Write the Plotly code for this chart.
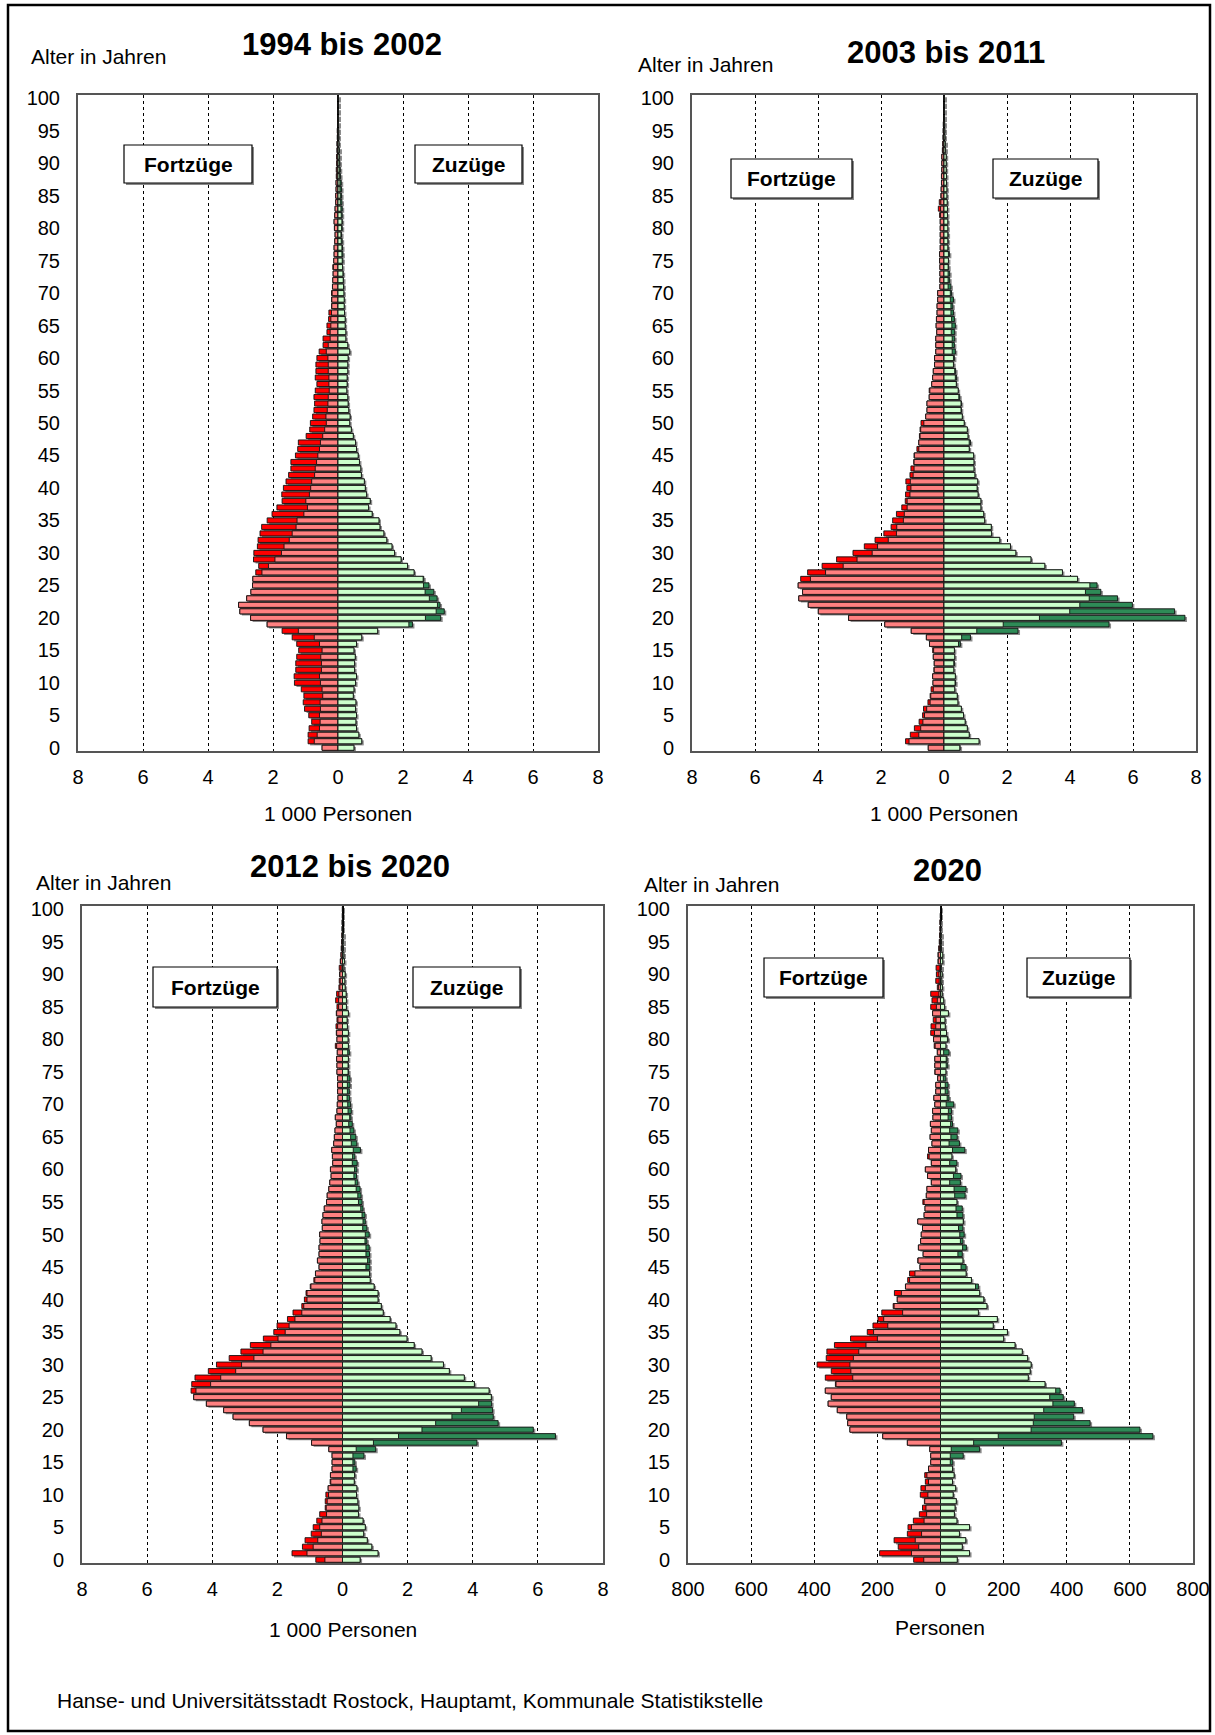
import plotly.graph_objects as go

W, H = 1215, 1735

ages = list(range(0, 101))

# Fortzüge / Zuzüge 1994 bis 2002 (1 000 Personen), Alter 0..100
fort_1994_2002 = [0.49, 0.92, 0.92, 0.89, 0.81, 0.90, 1.03, 1.07, 1.05, 1.13, 1.34, 1.35, 1.30, 1.30, 1.27, 1.21, 1.27, 1.41, 1.72, 2.18,
                  2.69, 3.02, 3.06, 2.81, 2.68, 2.63, 2.62, 2.53, 2.44, 2.60, 2.59, 2.48, 2.46, 2.40, 2.35, 2.18, 2.03, 1.88, 1.72, 1.73,
                  1.68, 1.60, 1.52, 1.45, 1.45, 1.31, 1.24, 1.22, 0.98, 0.87, 0.85, 0.78, 0.74, 0.72, 0.74, 0.70, 0.65, 0.70, 0.68, 0.68,
                  0.65, 0.58, 0.46, 0.46, 0.34, 0.34, 0.29, 0.28, 0.20, 0.20, 0.20, 0.17, 0.16, 0.15, 0.16, 0.13, 0.12, 0.12, 0.10, 0.09,
                  0.11, 0.12, 0.10, 0.09, 0.07, 0.07, 0.06, 0.06, 0.05, 0.05, 0.04, 0.04, 0.03, 0.03, 0.02, 0.02, 0.01, 0.01, 0.005, 0.003,
                  0.003]
zu_1994_2002 = [0.49, 0.73, 0.64, 0.57, 0.55, 0.57, 0.54, 0.55, 0.47, 0.49, 0.54, 0.57, 0.51, 0.51, 0.53, 0.49, 0.57, 0.73, 1.22, 2.29,
                3.16, 3.27, 3.14, 3.05, 2.95, 2.80, 2.64, 2.34, 2.14, 1.94, 1.74, 1.66, 1.50, 1.41, 1.29, 1.26, 1.05, 0.94, 0.99, 0.88,
                0.84, 0.81, 0.72, 0.70, 0.66, 0.62, 0.57, 0.54, 0.47, 0.41, 0.36, 0.37, 0.33, 0.31, 0.30, 0.27, 0.28, 0.28, 0.30, 0.30,
                0.31, 0.36, 0.30, 0.24, 0.24, 0.22, 0.22, 0.20, 0.19, 0.19, 0.18, 0.18, 0.17, 0.16, 0.14, 0.15, 0.15, 0.14, 0.13, 0.11,
                0.13, 0.13, 0.13, 0.13, 0.12, 0.11, 0.11, 0.10, 0.08, 0.07, 0.06, 0.05, 0.04, 0.03, 0.03, 0.02, 0.01, 0.01, 0.005, 0.003,
                0.003]

# 2003 bis 2011 (1 000 Personen)
fort_2003_2011 = [0.50, 1.22, 1.07, 0.94, 0.79, 0.68, 0.65, 0.51, 0.44, 0.41, 0.35, 0.36, 0.32, 0.31, 0.34, 0.36, 0.46, 0.56, 1.04, 1.88,
                  3.03, 3.99, 4.31, 4.61, 4.49, 4.63, 4.55, 4.33, 3.87, 3.41, 2.89, 2.53, 2.19, 1.91, 1.68, 1.63, 1.51, 1.34, 1.23, 1.22,
                  1.18, 1.21, 1.08, 1.05, 0.96, 0.95, 0.86, 0.80, 0.78, 0.76, 0.73, 0.58, 0.54, 0.54, 0.47, 0.47, 0.39, 0.36, 0.34, 0.30,
                  0.30, 0.26, 0.26, 0.26, 0.23, 0.25, 0.24, 0.22, 0.22, 0.20, 0.20, 0.13, 0.13, 0.13, 0.13, 0.14, 0.14, 0.12, 0.12, 0.12,
                  0.12, 0.12, 0.14, 0.18, 0.15, 0.10, 0.09, 0.08, 0.08, 0.07, 0.07, 0.07, 0.05, 0.04, 0.03, 0.025, 0.02, 0.015, 0.01, 0.005,
                  0.005]
zu_2003_2011 = [0.51, 1.11, 0.80, 0.74, 0.67, 0.62, 0.55, 0.44, 0.42, 0.34, 0.37, 0.36, 0.31, 0.33, 0.34, 0.33, 0.52, 0.84, 2.35, 5.24,
                7.65, 7.32, 5.98, 5.51, 4.98, 4.86, 4.24, 3.76, 3.20, 2.76, 2.28, 2.11, 1.77, 1.51, 1.50, 1.29, 1.26, 1.17, 1.17, 1.08,
                1.05, 1.07, 0.98, 0.95, 0.95, 0.94, 0.80, 0.84, 0.76, 0.74, 0.64, 0.58, 0.55, 0.55, 0.50, 0.45, 0.40, 0.40, 0.37, 0.31,
                0.33, 0.36, 0.33, 0.34, 0.34, 0.36, 0.33, 0.30, 0.28, 0.30, 0.24, 0.22, 0.18, 0.18, 0.15, 0.14, 0.17, 0.13, 0.13, 0.13,
                0.12, 0.12, 0.11, 0.11, 0.10, 0.09, 0.09, 0.08, 0.08, 0.07, 0.07, 0.07, 0.05, 0.04, 0.03, 0.025, 0.02, 0.015, 0.01, 0.005,
                0.005]

# 2012 bis 2020 (1 000 Personen)
fort_2012_2020 = [0.82, 1.55, 1.23, 1.15, 0.96, 0.90, 0.79, 0.70, 0.53, 0.53, 0.51, 0.44, 0.38, 0.37, 0.32, 0.32, 0.32, 0.42, 0.95, 1.72,
                  2.44, 2.86, 3.36, 3.65, 4.18, 4.57, 4.65, 4.63, 4.53, 4.12, 3.87, 3.48, 3.12, 2.83, 2.43, 2.11, 2.01, 1.69, 1.52, 1.25,
                  1.17, 1.12, 0.99, 0.88, 0.83, 0.72, 0.77, 0.72, 0.72, 0.69, 0.70, 0.62, 0.63, 0.60, 0.56, 0.49, 0.47, 0.42, 0.39, 0.35,
                  0.37, 0.30, 0.31, 0.33, 0.27, 0.25, 0.23, 0.19, 0.22, 0.17, 0.16, 0.14, 0.15, 0.15, 0.15, 0.17, 0.17, 0.18, 0.16, 0.22,
                  0.17, 0.19, 0.20, 0.17, 0.19, 0.17, 0.21, 0.18, 0.11, 0.10, 0.09, 0.10, 0.07, 0.05, 0.04, 0.03, 0.02, 0.015, 0.01, 0.005,
                  0.003]
zu_2012_2020 = [0.54, 1.09, 0.90, 0.76, 0.65, 0.70, 0.63, 0.49, 0.50, 0.47, 0.43, 0.44, 0.36, 0.38, 0.42, 0.38, 0.66, 1.02, 4.13, 6.54,
                5.86, 4.78, 4.63, 4.61, 4.58, 4.58, 4.50, 4.05, 3.74, 3.28, 3.10, 2.72, 2.44, 2.20, 1.98, 1.76, 1.64, 1.46, 1.25, 1.19,
                1.09, 1.09, 0.97, 0.85, 0.84, 0.84, 0.84, 0.83, 0.82, 0.75, 0.82, 0.75, 0.70, 0.69, 0.63, 0.60, 0.57, 0.54, 0.47, 0.43,
                0.44, 0.45, 0.38, 0.55, 0.44, 0.41, 0.35, 0.30, 0.26, 0.27, 0.25, 0.22, 0.21, 0.23, 0.23, 0.19, 0.18, 0.18, 0.21, 0.18,
                0.17, 0.18, 0.15, 0.14, 0.18, 0.12, 0.12, 0.11, 0.08, 0.07, 0.08, 0.04, 0.06, 0.04, 0.03, 0.02, 0.02, 0.01, 0.01, 0.005,
                0.003]

# 2020 (Personen)
fort_2020 = [85, 193, 134, 147, 105, 103, 86, 67, 57, 51, 64, 62, 48, 50, 38, 31, 31, 34, 105, 183,
             287, 294, 297, 327, 356, 346, 365, 333, 365, 346, 391, 362, 360, 336, 285, 232, 214, 198, 186, 150,
             137, 146, 111, 104, 98, 65, 72, 55, 70, 63, 61, 57, 72, 52, 49, 56, 45, 43, 29, 41,
             48, 29, 41, 38, 27, 33, 29, 32, 24, 25, 18, 21, 15, 15, 9, 18, 18, 18, 10, 20,
             22, 31, 30, 23, 25, 31, 27, 31, 10, 15, 13, 14, 8, 8, 6, 4, 3, 2, 2, 1,
             0]
zu_2020 = [53, 92, 69, 80, 60, 92, 52, 44, 46, 50, 40, 48, 38, 43, 39, 39, 72, 124, 383, 673,
           632, 474, 422, 450, 424, 389, 379, 331, 278, 284, 287, 276, 259, 236, 200, 212, 167, 180, 120, 147,
           138, 124, 120, 98, 81, 81, 71, 69, 82, 71, 75, 71, 73, 71, 69, 52, 78, 81, 63, 65,
           49, 52, 36, 77, 60, 53, 55, 38, 35, 35, 42, 27, 24, 24, 17, 17, 23, 21, 27, 17,
           24, 19, 15, 14, 25, 13, 10, 5, 6, 4, 5, 2, 7, 7, 3, 3, 2, 1, 1, 0,
           1]

titles = ["1994 bis 2002", "2003 bis 2011", "2012 bis 2020", "2020"]
x_titles = ["1 000 Personen", "1 000 Personen", "1 000 Personen", "Personen"]
x_ticks_k = [-8, -6, -4, -2, 0, 2, 4, 6, 8]
x_ticks_p = [-800, -600, -400, -200, 0, 200, 400, 600, 800]
y_ticks = list(range(0, 101, 5))
source_text = "Hanse- und Universitätsstadt Rostock, Hauptamt, Kommunale Statistikstelle"

DARK_RED = "#FF0000"
LIGHT_RED = "#FF8080"
LIGHT_GREEN = "#CCFFCC"
DARK_GREEN = "#2E8B57"
SHADOW = "#8C8C8C"
FONT = "Liberation Sans, Arial, sans-serif"

panels = [
    dict(fort=fort_1994_2002, zu=zu_1994_2002, ticks=x_ticks_k, box=(78, 598, 95, 751),
         title_xy=(342, 44), ytitle_xy=(29, 56), xtitle_y=813,
         fbox=(124, 252, 145, 183), zbox=(415, 522, 145, 183)),
    dict(fort=fort_2003_2011, zu=zu_2003_2011, ticks=x_ticks_k, box=(692, 1196, 95, 751),
         title_xy=(946, 53), ytitle_xy=(636, 65), xtitle_y=813,
         fbox=(731, 852, 159, 198), zbox=(993, 1098, 159, 198)),
    dict(fort=fort_2012_2020, zu=zu_2012_2020, ticks=x_ticks_k, box=(82, 603, 906, 1563),
         title_xy=(350, 866), ytitle_xy=(34, 882), xtitle_y=1629,
         fbox=(153, 277, 967, 1007), zbox=(413, 520, 967, 1007)),
    dict(fort=fort_2020, zu=zu_2020, ticks=x_ticks_p, box=(688, 1193, 906, 1563),
         title_xy=(947, 870), ytitle_xy=(642, 885), xtitle_y=1627,
         fbox=(764, 883, 958, 997), zbox=(1027, 1130, 958, 997)),
]


def px(x):
    return x / W


def py(y):
    return 1 - y / H


fig = go.Figure()
annotations = []
shapes = []
layout_axes = {}

for i, p in enumerate(panels):
    n = i + 1
    xa = "x" if n == 1 else f"x{n}"
    ya = "y" if n == 1 else f"y{n}"
    fort = p["fort"]
    zu = p["zu"]
    common = [min(a, b) for a, b in zip(fort, zu)]
    x0, x1, y0, y1 = p["box"]
    ticks = p["ticks"]
    span = ticks[-1] - ticks[0]
    # drop shadow: ~2 px right, ~1.6 px down
    dx = 2.0 * span / (x1 - x0)
    shadow_y = [a - 0.25 for a in ages]
    line = dict(color="#111111", width=0.9)
    bw = 0.78
    fig.add_trace(go.Bar(y=shadow_y, x=[-v for v in fort], base=dx, orientation="h", width=bw,
                         marker=dict(color=SHADOW, line=dict(width=0)), xaxis=xa, yaxis=ya,
                         showlegend=False, hoverinfo="skip"))
    fig.add_trace(go.Bar(y=shadow_y, x=zu, base=dx, orientation="h", width=bw,
                         marker=dict(color=SHADOW, line=dict(width=0)), xaxis=xa, yaxis=ya,
                         showlegend=False, hoverinfo="skip"))
    fig.add_trace(go.Bar(y=ages, x=[-v for v in fort], orientation="h", width=bw,
                         marker=dict(color=DARK_RED, line=line), xaxis=xa, yaxis=ya, showlegend=False))
    fig.add_trace(go.Bar(y=ages, x=[-v for v in common], orientation="h", width=bw,
                         marker=dict(color=LIGHT_RED, line=line), xaxis=xa, yaxis=ya, showlegend=False))
    fig.add_trace(go.Bar(y=ages, x=zu, orientation="h", width=bw,
                         marker=dict(color=DARK_GREEN, line=line), xaxis=xa, yaxis=ya, showlegend=False))
    fig.add_trace(go.Bar(y=ages, x=common, orientation="h", width=bw,
                         marker=dict(color=LIGHT_GREEN, line=line), xaxis=xa, yaxis=ya, showlegend=False))

    xkey = "xaxis" if n == 1 else f"xaxis{n}"
    ykey = "yaxis" if n == 1 else f"yaxis{n}"
    layout_axes[xkey] = dict(
        domain=[px(x0), px(x1)], anchor=ya, range=[ticks[0], ticks[-1]],
        tickvals=ticks, ticktext=[str(abs(t)) for t in ticks], automargin=False,
        showgrid=True, gridcolor="#000000", gridwidth=1, griddash="3px,3px",
        zeroline=True, zerolinecolor="#000000", zerolinewidth=1.5,
        showline=True, mirror=True, linecolor="#555555", linewidth=2,
        ticks="outside", ticklen=7, tickcolor="rgba(0,0,0,0)",
        tickfont=dict(family=FONT, size=20, color="#000000"), fixedrange=True,
    )
    layout_axes[ykey] = dict(
        domain=[py(y1), py(y0)], anchor=xa, range=[-0.5, 100.5], automargin=False,
        tickvals=y_ticks, showgrid=False, zeroline=False,
        showline=True, mirror=True, linecolor="#555555", linewidth=2,
        ticks="outside", ticklen=12, tickcolor="rgba(0,0,0,0)",
        tickfont=dict(family=FONT, size=20, color="#000000"), fixedrange=True,
    )

    tx, ty = p["title_xy"]
    annotations.append(dict(x=px(tx), y=py(ty), xref="paper", yref="paper", text=f"<b>{titles[i]}</b>",
                            showarrow=False, xanchor="center", yanchor="middle",
                            font=dict(family=FONT, size=31, color="#000000")))
    ax_, ay_ = p["ytitle_xy"]
    annotations.append(dict(x=px(ax_), y=py(ay_), xref="paper", yref="paper", text="Alter in Jahren",
                            showarrow=False, xanchor="left", yanchor="middle",
                            font=dict(family=FONT, size=21, color="#000000")))
    annotations.append(dict(x=px((x0 + x1) / 2), y=py(p["xtitle_y"]), xref="paper", yref="paper",
                            text=x_titles[i], showarrow=False, xanchor="center", yanchor="middle",
                            font=dict(family=FONT, size=21, color="#000000")))
    for label, (bx0, bx1, by0, by1) in (("Fortzüge", p["fbox"]), ("Zuzüge", p["zbox"])):
        shapes.append(dict(type="rect", xref="paper", yref="paper", x0=px(bx0 + 2), x1=px(bx1 + 2),
                           y0=py(by1 + 2), y1=py(by0 + 2), line=dict(width=0), fillcolor="#888888"))
        shapes.append(dict(type="rect", xref="paper", yref="paper", x0=px(bx0), x1=px(bx1),
                           y0=py(by1), y1=py(by0), line=dict(color="#000000", width=1.2), fillcolor="#FFFFFF"))
        annotations.append(dict(x=px((bx0 + bx1) / 2), y=py((by0 + by1) / 2), xref="paper", yref="paper",
                                text=f"<b>{label}</b>", showarrow=False, xanchor="center", yanchor="middle",
                                font=dict(family=FONT, size=21, color="#000000")))

annotations.append(dict(x=px(55), y=py(1700), xref="paper", yref="paper", text=source_text,
                        showarrow=False, xanchor="left", yanchor="middle",
                        font=dict(family=FONT, size=21, color="#000000")))

shapes.append(dict(type="rect", xref="paper", yref="paper", x0=px(8), x1=px(1210), y0=py(1731), y1=py(5),
                   line=dict(color="#000000", width=2.5), fillcolor="rgba(0,0,0,0)", layer="below"))

fig.update_layout(
    width=W, height=H, margin=dict(l=0, r=0, t=0, b=0, pad=0, autoexpand=False),
    paper_bgcolor="#FFFFFF", plot_bgcolor="#FFFFFF",
    barmode="overlay", bargap=0.2, showlegend=False,
    annotations=annotations, shapes=shapes,
    font=dict(family=FONT, color="#000000"),
    **layout_axes,
)

fig.write_html(
    "out.html",
    config={"displayModeBar": False},
    post_script="document.body.style.margin='0px';document.body.style.padding='0px';document.documentElement.style.overflow='hidden';",
)
